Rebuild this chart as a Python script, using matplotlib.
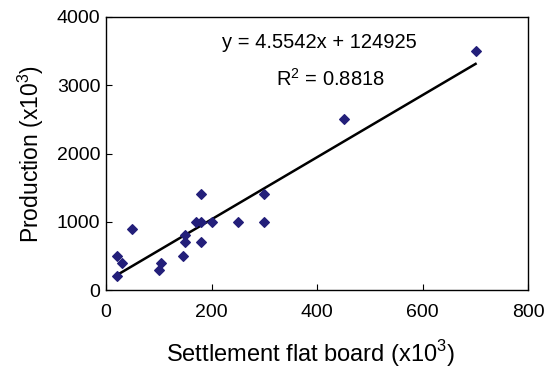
import numpy as np
import matplotlib.pyplot as plt

plt.rcParams['font.family'] = ['Liberation Sans', 'DejaVu Sans']
plt.rcParams['mathtext.fontset'] = 'custom'
plt.rcParams['mathtext.rm'] = 'Liberation Sans'

# settlement flat board (x10^3) vs production (x10^3)
flat_board = [20, 20, 30, 50, 100, 105, 145, 150, 150, 170, 180, 180, 180, 200, 250, 300, 300, 450, 700]
production = [200, 500, 400, 900, 290, 400, 500, 700, 800, 1000, 1000, 1400, 700, 1000, 1000, 1400, 1000, 2500, 3500]

slope = 4.5542
intercept = 124925 / 1000.0  # in x10^3 units

fig = plt.figure(figsize=(5.55, 3.69), dpi=100)
ax = fig.add_axes([0.191, 0.214, 0.761, 0.740])

ax.scatter(flat_board, production, marker='D', s=24, color='#231f7a', zorder=3)

xl = np.array([min(flat_board), max(flat_board)])
ax.plot(xl, slope * xl + intercept, color='black', lw=1.8)

ax.text(404, 3620, 'y = 4.5542x + 124925', ha='center', va='center', fontsize=14.5)
ax.text(425, 3090, 'R$^\\mathrm{2}$ = 0.8818', ha='center', va='center', fontsize=14.5)

ax.set_xlim(0, 800)
ax.set_ylim(0, 4000)
ax.set_xticks([0, 200, 400, 600, 800])
ax.set_yticks([0, 1000, 2000, 3000, 4000])
ax.tick_params(direction='in', length=4, labelsize=14)
ax.tick_params(axis='x', pad=10)
ax.tick_params(axis='y', pad=4)
for s in ax.spines.values():
    s.set_linewidth(1.0)

ax.set_xlabel('Settlement flat board (x10$^\\mathrm{3}$)', fontsize=17)
ax.set_ylabel('Production (x10$^\\mathrm{3}$)', fontsize=16.5, labelpad=8)
ax.xaxis.set_label_coords(0.485, -0.175)

fig.savefig('out.png', dpi=100)
